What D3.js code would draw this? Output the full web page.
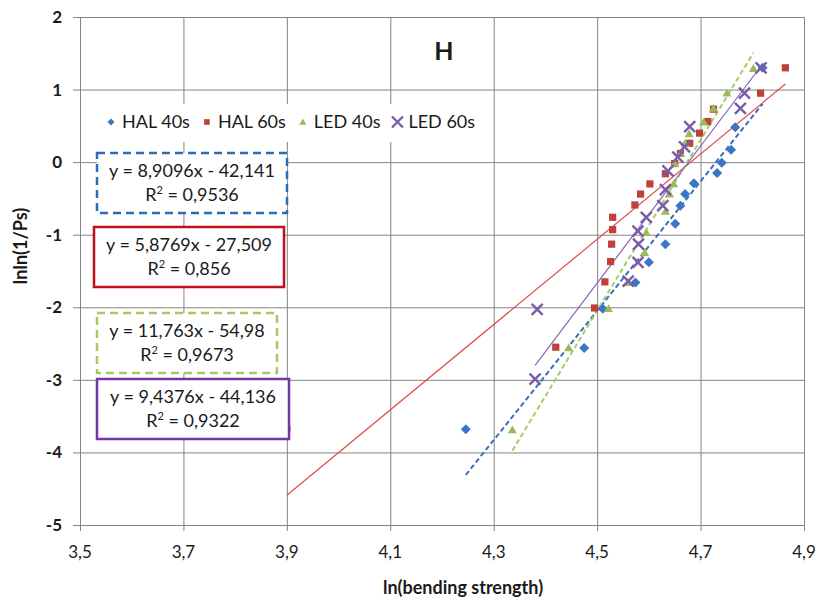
<!DOCTYPE html>
<html>
<head>
<meta charset="utf-8">
<script src="https://cdn.jsdelivr.net/npm/d3@7/dist/d3.min.js"></script>
<style>
    body { margin: 0; background: #fff; }
    svg text { font-family: Lato, "Open Sans", sans-serif; fill: #1a1a1a; }
</style>
</head>
<body>
<svg id="chart" width="819" height="603"></svg>
<script>
// axis ticks
var xTicks = [3.5, 3.7, 3.9, 4.1, 4.3, 4.5, 4.7, 4.9];
var yTicks = [2, 1, 0, -1, -2, -3, -4, -5];

// series names
var seriesNames = ['HAL 40s', 'HAL 60s', 'LED 40s', 'LED 60s'];

// HAL 40s
var hal40X = [4.246, 4.475, 4.511, 4.574, 4.600, 4.632, 4.651, 4.661, 4.670, 4.687, 4.732, 4.741, 4.759, 4.767, 4.820];
var hal40Y = [-3.68, -2.56, -2.02, -1.66, -1.38, -1.13, -0.85, -0.60, -0.44, -0.29, -0.15, -0.01, 0.17, 0.48, 1.30];

// HAL 60s
var hal60X = [3.900, 4.420, 4.495, 4.515, 4.526, 4.528, 4.530, 4.530, 4.573, 4.584, 4.602, 4.632, 4.650, 4.661, 4.679, 4.698, 4.714, 4.725, 4.816, 4.864];
var hal60Y = [-3.68, -2.55, -2.01, -1.65, -1.37, -1.13, -0.93, -0.76, -0.59, -0.44, -0.30, -0.16, -0.02, 0.12, 0.26, 0.40, 0.56, 0.73, 0.95, 1.30];

// LED 40s
var led40X = [4.336, 4.445, 4.522, 4.560, 4.592, 4.595, 4.632, 4.640, 4.648, 4.650, 4.662, 4.670, 4.678, 4.706, 4.725, 4.751, 4.802];
var led40Y = [-3.69, -2.56, -2.02, -1.66, -1.25, -0.97, -0.68, -0.44, -0.30, -0.02, 0.12, 0.26, 0.39, 0.55, 0.74, 0.95, 1.29];

// LED 60s
var led60X = [4.380, 4.384, 4.560, 4.579, 4.580, 4.579, 4.595, 4.627, 4.632, 4.637, 4.656, 4.669, 4.679, 4.777, 4.785, 4.817];
var led60Y = [-2.99, -2.03, -1.64, -1.38, -1.13, -0.95, -0.76, -0.60, -0.38, -0.12, 0.07, 0.21, 0.49, 0.74, 0.95, 1.30];

// trend lines (slope, intercept) and their labels
var trendSlopes = [8.9096, 5.8769, 11.763, 9.4376];
var trendIntercepts = [-42.141, -27.509, -54.98, -44.136];
var trendEquations = ['y = 8,9096x - 42,141', 'y = 5,8769x - 27,509', 'y = 11,763x - 54,98', 'y = 9,4376x - 44,136'];
var trendR2 = ['0,9536', '0,856', '0,9673', '0,9322'];

var svg = d3.select('#chart');
var xScale = d3.scaleLinear().domain([3.5, 4.9]).range([80, 804]);
var yScale = d3.scaleLinear().domain([-5, 2]).range([525, 17]);

var colors = ['#3d74c4', '#c0413b', '#9bbb59', '#7a5ca8'];
var lineColors = ['#3a70b8', '#e24a46', '#a9cc63', '#8a62b8'];
var boxColors = ['#2a6db5', '#c0101a', '#a8c860', '#7336a6'];
var gridColor = '#858585';

// grid
svg.append('g').selectAll('line').data(yTicks).enter().append('line')
    .attr('x1', 73).attr('x2', xScale(4.9))
    .attr('y1', function(d) { return yScale(d) + 0.5; })
    .attr('y2', function(d) { return yScale(d) + 0.5; })
    .attr('stroke', gridColor).attr('stroke-width', 1);

svg.append('g').selectAll('line').data(xTicks).enter().append('line')
    .attr('x1', function(d) { return xScale(d) + 0.5; })
    .attr('x2', function(d) { return xScale(d) + 0.5; })
    .attr('y1', yScale(2)).attr('y2', yScale(-5) + 6)
    .attr('stroke', gridColor).attr('stroke-width', 1);

// tick labels
svg.append('g').selectAll('text').data(yTicks).enter().append('text')
    .attr('x', 62).attr('y', function(d) { return yScale(d) + 6; })
    .attr('text-anchor', 'end')
    .attr('font-size', 17).attr('font-weight', 'bold')
    .text(function(d) { return d; });

svg.append('g').selectAll('text').data(xTicks).enter().append('text')
    .attr('x', function(d) { return xScale(d); }).attr('y', 558)
    .attr('text-anchor', 'middle')
    .attr('font-size', 17)
    .text(function(d) { return d3.format('.1f')(d).replace('.', ','); });

// axis titles
svg.append('text')
    .attr('transform', 'translate(27,246) rotate(-90)')
    .attr('text-anchor', 'middle').attr('font-size', 18).attr('font-weight', 'bold')
    .text('lnln(1/Ps)');

svg.append('text')
    .attr('x', 463).attr('y', 594)
    .attr('text-anchor', 'middle').attr('font-size', 18).attr('font-weight', 'bold')
    .text('ln(bending strength)');

// trend lines
var allX = [hal40X, hal60X, led40X, led60X];
var allY = [hal40Y, hal60Y, led40Y, led60Y];
var dashes = ['5,3', null, '5,3', null];
var widths = [2, 1.2, 2, 1.2];

allX.forEach(function(xs, i) {
    var ext = d3.extent(xs);
    var pts = ext.map(function(v) { return [v, trendSlopes[i] * v + trendIntercepts[i]]; });
    svg.append('path')
        .attr('d', d3.line().x(function(p) { return xScale(p[0]); }).y(function(p) { return yScale(p[1]); })(pts))
        .attr('fill', 'none')
        .attr('stroke', lineColors[i])
        .attr('stroke-width', widths[i])
        .attr('stroke-dasharray', dashes[i]);
});

// markers
function drawMarker(g, kind, color, size) {
    var s = size / 2;
    if (kind == 'x') {
        g.append('path').attr('d', 'M' + (-s) + ',' + (-s) + 'L' + s + ',' + s + 'M' + (-s) + ',' + s + 'L' + s + ',' + (-s))
            .attr('stroke', color).attr('stroke-width', 2.4).attr('fill', 'none');
    } else if (kind == 'diamond') {
        g.append('path').attr('d', 'M0,' + (-s) + 'L' + s + ',0L0,' + s + 'L' + (-s) + ',0Z')
            .attr('fill', color);
    } else if (kind == 'square') {
        g.append('rect').attr('x', -s * 0.8).attr('y', -s * 0.8).attr('width', s * 1.6).attr('height', s * 1.6)
            .attr('fill', color);
    } else {
        g.append('path').attr('d', 'M0,' + (-s) + 'L' + s + ',' + (s * 0.75) + 'L' + (-s) + ',' + (s * 0.75) + 'Z')
            .attr('fill', color);
    }
}

var kinds = ['diamond', 'square', 'triangle', 'x'];
var sizes = [10, 9, 9, 11];

allX.forEach(function(xs, i) {
    xs.forEach(function(v, k) {
        var g = svg.append('g').attr('transform', 'translate(' + xScale(v) + ',' + yScale(allY[i][k]) + ')');
        drawMarker(g, kinds[i], colors[i], sizes[i]);
    });
});

// legend
svg.append('rect').attr('x', 100).attr('y', 104).attr('width', 392).attr('height', 38).attr('fill', '#fff');
var legendX = 111;
seriesNames.forEach(function(name, i) {
    var g = svg.append('g').attr('transform', 'translate(' + legendX + ',122)');
    drawMarker(g, kinds[i], colors[i], i == 3 ? 11 : 7);
    var t = svg.append('text').attr('x', legendX + 11).attr('y', 128)
        .attr('font-size', 18).text(name);
    legendX += 11 + t.node().getComputedTextLength() + 17;
});

// chart label
svg.append('text').attr('x', 444).attr('y', 60).attr('text-anchor', 'middle')
    .attr('font-size', 25).attr('font-weight', 'bold').text('H');

// equation boxes
var boxTop = [153, 227, 313, 379];
var boxLeft = [97, 94, 97, 97];
var boxRight = [287, 284, 277, 289];
var boxDash = ['8,5', null, '8,5', null];

trendEquations.forEach(function(eq, i) {
    svg.append('rect')
        .attr('x', boxLeft[i]).attr('y', boxTop[i])
        .attr('width', boxRight[i] - boxLeft[i]).attr('height', 60)
        .attr('fill', '#fff')
        .attr('stroke', boxColors[i]).attr('stroke-width', 2.5)
        .attr('stroke-dasharray', boxDash[i]);
    var cx = (boxLeft[i] + boxRight[i]) / 2;
    svg.append('text').attr('x', cx).attr('y', boxTop[i] + 24)
        .attr('text-anchor', 'middle').attr('font-size', 18).text(eq);
    var r = svg.append('text').attr('x', cx).attr('y', boxTop[i] + 48)
        .attr('text-anchor', 'middle').attr('font-size', 18);
    r.append('tspan').text('R');
    r.append('tspan').attr('font-size', 11).attr('dy', -7).text('2');
    r.append('tspan').attr('dy', 7).text(' = ' + trendR2[i]);
});
</script>
</body>
</html>
